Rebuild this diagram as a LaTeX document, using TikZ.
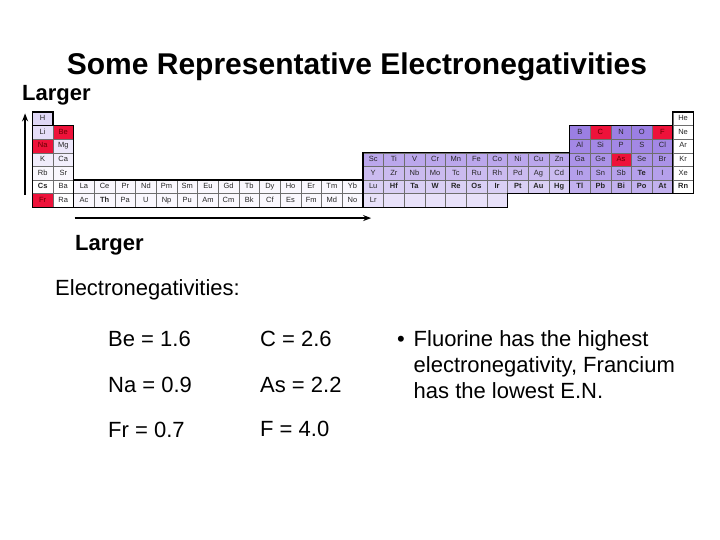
\documentclass[tikz,border=0pt]{standalone}
\usepackage{fontspec}
\setmainfont{Liberation Sans}
\usepackage{xcolor}
\usetikzlibrary{arrows.meta}
\definecolor{enred}{RGB}{238, 18, 58}
\definecolor{enpurple}{RGB}{150, 120, 226}
\definecolor{gridgray}{RGB}{110, 110, 110}
\newcommand{\elcell}[5][black!85]{
\node[cell, fill=#5, text=#1] (el-#2-#3) at ({#2+0.5},{#3+0.5}) {#4};
}

\begin{document}
\begin{tikzpicture}[x=1pt, y=-1pt,
    cell/.style={draw=gridgray, line width=0.4pt, minimum width=20.66pt,
        minimum height=13.6pt, inner sep=0pt, text height=5.4pt, text depth=1.6pt,
        font=\fontsize{7.5}{8}\selectfont},
    block/.style={line width=1.3pt, line join=miter},
    enarrow/.style={line width=1.5pt, -{Stealth[length=8pt, width=6pt]}},
    big/.style={font=\fontsize{22}{26}\selectfont, anchor=base west, inner sep=0pt}]
    \fill[white] (0,0) rectangle (720,540);
    \useasboundingbox (0,0) rectangle (720,540);

    \node[anchor=base, inner sep=0pt, font=\fontsize{30}{34}\selectfont\bfseries]
        (title) at (357,75) {Some Representative Electronegativities};
    \node[big, font=\fontsize{22}{26}\selectfont\bfseries] (uplabel) at (22,101) {Larger};
    \node[big, font=\fontsize{22}{26}\selectfont\bfseries] (rightlabel) at (75,251) {Larger};

    \begin{scope}[shift={(32.3,112)}, x=20.66pt, y=-13.6pt]
    % s-block
    \elcell{0}{0}{H}{enpurple!30}
    \elcell{0}{1}{Li}{enpurple!25}
    \elcell[red!40!black]{1}{1}{Be}{enred}
    \elcell[red!40!black]{0}{2}{Na}{enred}
    \elcell{1}{2}{Mg}{enpurple!18}
    \elcell{0}{3}{K}{enpurple!14}
    \elcell{1}{3}{Ca}{enpurple!12}
    \elcell{0}{4}{Rb}{enpurple!6}
    \elcell{1}{4}{Sr}{enpurple!6}
    \elcell{0}{5}{\textbf{Cs}}{white}
    \elcell{1}{5}{Ba}{white}
    \elcell[red!40!black]{0}{6}{Fr}{enred}
    \elcell{1}{6}{Ra}{white}
    % f-block
    \foreach \s [count=\c from 2] in {La,Ce,Pr,Nd,Pm,Sm,Eu,Gd,Tb,Dy,Ho,Er,Tm,Yb}
        {\elcell{\c}{5}{\s}{enpurple!5}}
    \foreach \s [count=\c from 2] in {Ac,\textbf{Th},Pa,U,Np,Pu,Am,Cm,Bk,Cf,Es,Fm,Md,No}
        {\elcell{\c}{6}{\s}{enpurple!5}}
    % d-block
    \foreach \s [count=\c from 16] in {Sc,Ti,V,Cr,Mn,Fe,Co,Ni,Cu,Zn}
        {\elcell{\c}{3}{\s}{enpurple!65}}
    \foreach \s [count=\c from 16] in {Y,Zr,Nb,Mo,Tc,Ru,Rh,Pd,Ag,Cd}
        {\elcell{\c}{4}{\s}{enpurple!50}}
    \foreach \s [count=\c from 16] in {Lu,\textbf{Hf},\textbf{Ta},\textbf{W},\textbf{Re},
        \textbf{Os},\textbf{Ir},\textbf{Pt},\textbf{Au},\textbf{Hg}}
        {\elcell{\c}{5}{\s}{enpurple!35}}
    \foreach \s [count=\c from 16] in {Lr,{},{},{},{},{},{}}
        {\elcell{\c}{6}{\s}{enpurple!22}}
    % p-block
    \foreach \c/\s in {26/B,28/N,29/O}
        {\elcell{\c}{1}{\s}{enpurple!95}}
    \elcell[red!40!black]{27}{1}{C}{enred}
    \elcell[red!40!black]{30}{1}{F}{enred}
    \foreach \s [count=\c from 26] in {Al,Si,P,S,Cl}
        {\elcell{\c}{2}{\s}{enpurple!88}}
    \foreach \c/\s in {26/Ga,27/Ge,29/Se,30/Br}
        {\elcell{\c}{3}{\s}{enpurple!80}}
    \elcell[red!40!black]{28}{3}{As}{enred}
    \foreach \s [count=\c from 26] in {In,Sn,Sb,\textbf{Te},I}
        {\elcell{\c}{4}{\s}{enpurple!70}}
    \foreach \s [count=\c from 26] in {\textbf{Tl},\textbf{Pb},\textbf{Bi},\textbf{Po},\textbf{At}}
        {\elcell{\c}{5}{\s}{enpurple!58}}
    % noble gases
    \foreach \s [count=\r from 0] in {He,Ne,Ar,Kr,Xe,\textbf{Rn}}
        {\elcell{31}{\r}{\s}{white}}

    % block outlines
    \draw[block] (0,0) -- (1,0) -- (1,1) -- (2,1) -- (2,5) -- (16,5) -- (16,3)
        -- (26,3) -- (26,1) -- (31,1) -- (31,0) -- (32,0) -- (32,6) -- (23,6)
        -- (23,7) -- (0,7) -- cycle;
    \draw[block] (0,1) -- (1,1);
    \draw[block] (2,5) -- (2,7);
    \draw[block] (16,5) -- (16,7);
    \draw[block] (26,3) -- (26,6);
    \draw[block] (31,1) -- (31,6);

    \coordinate (vbot) at (-0.35,6.1);
    \coordinate (vtop) at (-0.35,0.1);
    \coordinate (hleft) at (2.05,7.8);
    \coordinate (hright) at (16.4,7.8);
    \end{scope}

    \draw[enarrow] (vbot) -- (vtop);
    \draw[enarrow] (hleft) -- (hright);

    \node[big] (entitle) at (55,295) {Electronegativities:};
    \node[big] (be) at (108,346) {Be = 1.6};
    \node[big] (na) at (108,392) {Na = 0.9};
    \node[big] (fr) at (108,437) {Fr = 0.7};
    \node[big] (c) at (260,346) {C = 2.6};
    \node[big] (as) at (260,392) {As = 2.2};
    \node[big] (f) at (260,436) {F = 4.0};

    \node[big] (bullet) at (397,346) {\textbullet};
    \node[big] (note1) at (413.5,346) {Fluorine has the highest};
    \node[big] (note2) at (413.5,372.5) {electronegativity, Francium};
    \node[big] (note3) at (413.5,398.5) {has the lowest E.N.};
\end{tikzpicture}
\end{document}
